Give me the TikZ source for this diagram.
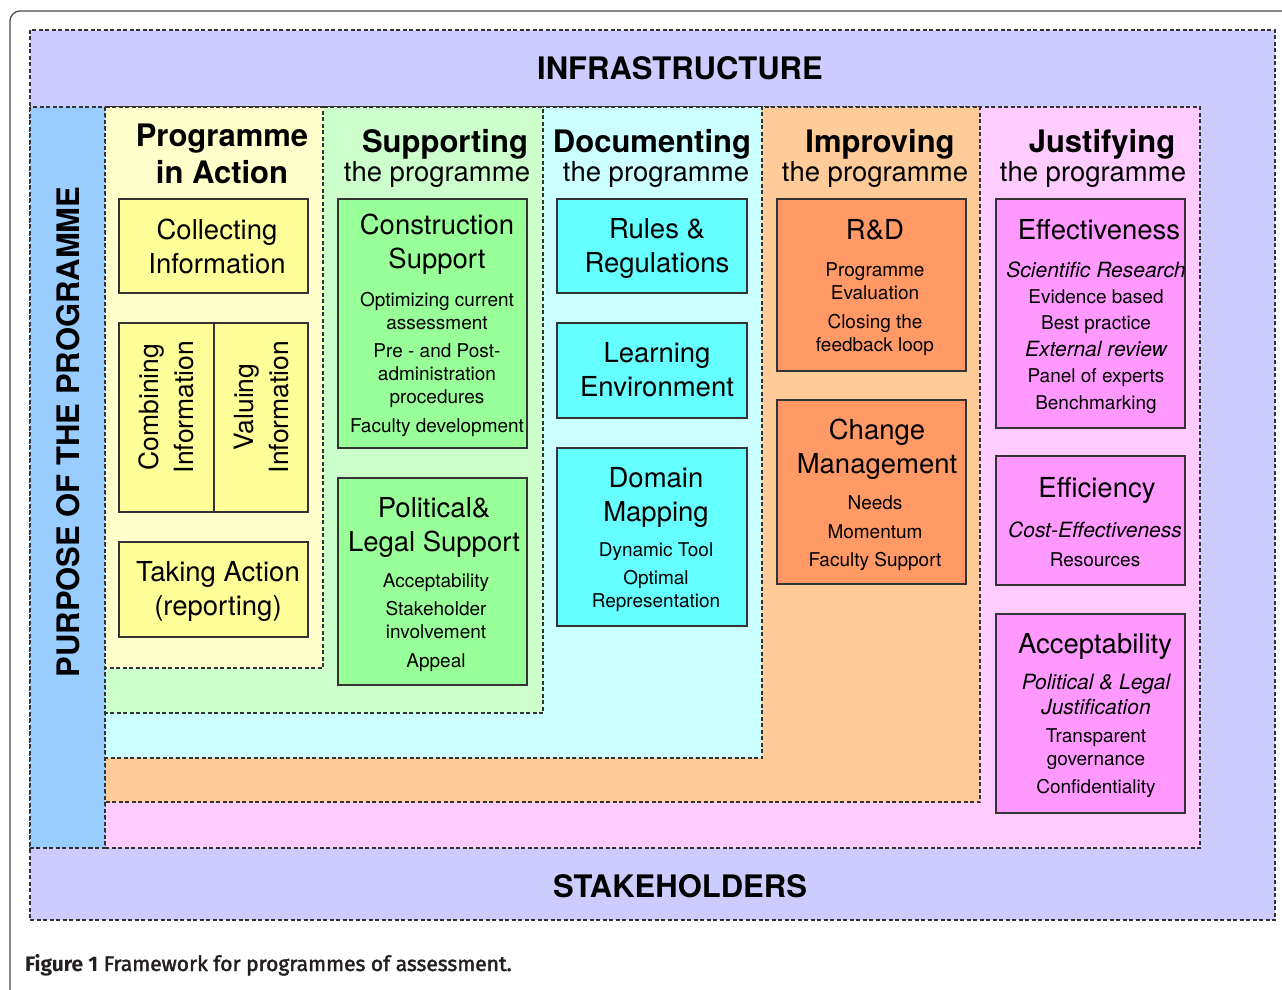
\documentclass[tikz,border=0pt]{standalone}
\usepackage{fontspec}
\setmainfont{TeX Gyre Heros}
\newfontfamily\capfont{Fira Sans}
\newfontfamily\capfontmed{Fira Sans}[FakeBold=2]
\definecolor{infra}{HTML}{CCCCFF}
\definecolor{purp}{HTML}{99CCFF}
\definecolor{pinkbg}{HTML}{FFCCFF}
\definecolor{pinkbx}{HTML}{FF99FF}
\definecolor{orgbg}{HTML}{FFCC99}
\definecolor{orgbx}{HTML}{FF9966}
\definecolor{cyanbg}{HTML}{CCFFFF}
\definecolor{cyanbx}{HTML}{66FFFF}
\definecolor{grnbg}{HTML}{CCFFCC}
\definecolor{grnbx}{HTML}{99FF99}
\definecolor{ylwbg}{HTML}{FFFFCC}
\definecolor{ylwbx}{HTML}{FFFF99}
\definecolor{captxt}{HTML}{231F20}
\newcommand\FwBig{\fontsize{31}{37}\selectfont\bfseries}
\newcommand\FwSub{\fontsize{27.5}{34}\selectfont}
\newcommand\FwTtl{\fontsize{27.5}{34}\selectfont}
\newcommand\FwRot{\fontsize{26.5}{35}\selectfont}
\newcommand\FwSm{\fontsize{19}{23}\selectfont}
\newcommand\FwSmW{\fontsize{19}{26.4}\selectfont}
\newcommand\FwIt{\fontsize{21}{25}\selectfont\itshape}
\newcommand\boxat[6]{%
  \pgfmathsetmacro\bw{#4-#2}\pgfmathsetmacro\bh{#5-#3}%
  \pgfmathsetmacro\bcx{(#2+#4)/2}\pgfmathsetmacro\bcy{(#3+#5)/2}%
  \node[box, fill=#6, minimum width=\bw pt, minimum height=\bh pt] (#1) at (\bcx,\bcy) {};}
\begin{document}
\begin{tikzpicture}[x=1pt, y=-1pt,
  every node/.style={inner sep=0pt, outer sep=0pt},
  region/.style={draw=black!80, line width=1.1pt, dash pattern=on 4pt off 2.5pt},
  box/.style={draw=black!80, line width=1.3pt, rectangle},
  txt/.style={align=center, anchor=base, text=black}]
\useasboundingbox (0,0) rectangle (1282,990);
\fill[white] (0,0) rectangle (1282,990);
\begin{scope}
\clip (0,0) rectangle (1282,990);
\draw[draw=black!70, line width=1.3pt, rounded corners=10pt] (10,1100) -- (10,11) -- (1400,11);
\end{scope}
% regions
\path[region, fill=infra] (30,30) rectangle (1275,920);
\path[region, fill=pinkbg] (105,107) rectangle (1200,848);
\path[region, fill=orgbg] (105,107) rectangle (980,802);
\path[region, fill=cyanbg] (105,107) rectangle (762,758);
\path[region, fill=grnbg] (105,107) rectangle (543,713);
\path[region, fill=ylwbg] (105,107) rectangle (323,668);
\path[region, fill=purp] (30,107) rectangle (105,848);
% labels of frame
\node[txt, font=\FwBig] (infraT) at (680,80) {INFRASTRUCTURE};
\node[txt, font=\FwBig] (stakeT) at (680,897) {STAKEHOLDERS};
\node[txt, font=\FwBig, rotate=90] (purpT) at (79,432) {PURPOSE OF THE PROGRAMME};
% headings (anchor = baseline of the last line)
\node[txt, font=\FwBig] (hPIA) at (222,183) {Programme\\in Action};
\node[txt, font=\FwBig] (hSup) at (445,152) {Supporting};
\node[txt, font=\FwSub] (hSupS) at (437,181) {the programme};
\node[txt, font=\FwBig] (hDoc) at (652,152) {Documenting};
\node[txt, font=\FwSub] (hDocS) at (656,181) {the programme};
\node[txt, font=\FwBig] (hImp) at (880,152) {Improving};
\node[txt, font=\FwSub] (hImpS) at (875,181) {the programme};
\node[txt, font=\FwBig] (hJus) at (1102,152) {Justifying};
\node[txt, font=\FwSub] (hJusS) at (1093,181) {the programme};
% boxes
\boxat{collect}{119}{199}{308}{293}{ylwbx}
\boxat{comb}{119}{323}{214}{512}{ylwbx}
\boxat{valu}{214}{323}{308}{512}{ylwbx}
\boxat{take}{119}{542}{308}{637}{ylwbx}
\boxat{cons}{338}{199}{527}{448}{grnbx}
\boxat{pol}{338}{478}{527}{685}{grnbx}
\boxat{rules}{557}{199}{747}{293}{cyanbx}
\boxat{learn}{557}{323}{747}{418}{cyanbx}
\boxat{domain}{557}{448}{747}{626}{cyanbx}
\boxat{rd}{777}{199}{966}{371}{orgbx}
\boxat{change}{777}{400}{966}{584}{orgbx}
\boxat{eff}{996}{199}{1185}{428}{pinkbx}
\boxat{effc}{996}{456}{1185}{585}{pinkbx}
\boxat{acc}{996}{614}{1185}{813}{pinkbx}
% box texts (anchor = baseline of the last line)
\node[txt, font=\FwTtl] (collectT) at (217,273) {Collecting\\Information};
\node[txt, font=\FwRot, rotate=90] (combT) at (193,407) {Combining\\Information};
\node[txt, font=\FwRot, rotate=90] (valuT) at (288,407) {Valuing\\Information};
\node[txt, font=\FwTtl] (takeT) at (218,615) {Taking Action\\(reporting)};
\node[txt, font=\FwTtl] (consT) at (437,268) {Construction\\Support};
\node[txt, font=\FwSm] (consD) at (437,432) {Optimizing current\\assessment\\[5pt]Pre - and Post-\\administration\\procedures\\[6pt]Faculty development};
\node[txt, font=\FwTtl] (polT) at (434,551) {Political\&\\Legal Support};
\node[txt, font=\FwSm] (polD) at (436,667) {Acceptability\\[5pt]Stakeholder\\involvement\\[6pt]Appeal};
\node[txt, font=\FwTtl] (rulesT) at (657,272) {Rules \&\\Regulations};
\node[txt, font=\FwTtl] (learnT) at (657,396) {Learning\\Environment};
\node[txt, font=\FwTtl] (domainT) at (656,521) {Domain\\Mapping};
\node[txt, font=\FwSm] (domainD) at (656,607) {Dynamic Tool\\[5pt]Optimal\\Representation};
\node[txt, font=\FwTtl] (rdT) at (875,239) {R\&D};
\node[txt, font=\FwSm] (rdD) at (875,351) {Programme\\Evaluation\\[6pt]Closing the\\feedback loop};
\node[txt, font=\FwTtl] (changeT) at (877,473) {Change\\Management};
\node[txt, font=\FwSm] (changeD) at (875,566) {Needs\\[6pt]Momentum\\[5pt]Faculty Support};
\node[txt, font=\FwTtl] (effT) at (1099,239) {Effectiveness};
\node[txt, font=\FwSmW] (effD) at (1096,409) {{\FwIt Scientific Research}\\Evidence based\\Best practice\\{\FwIt External review}\\Panel of experts\\Benchmarking};
\node[txt, font=\FwTtl] (effcT) at (1097,497) {Efficiency};
\node[txt, font=\FwSm] (effcD) at (1095,566) {{\FwIt Cost-Effectiveness}\\[6pt]Resources};
\node[txt, font=\FwTtl] (accT) at (1095,653) {Acceptability};
\node[txt, font=\FwSm] (accD) at (1096,793) {{\FwIt Political \& Legal}\\[2pt]{\FwIt Justification}\\[5pt]Transparent\\governance\\[5pt]Confidentiality};
% caption
\node[anchor=base west, text=captxt, font=\fontsize{21}{25}\selectfont] (cap) at (25,971) {{\capfont\bfseries Figure 1} {\capfontmed Framework for programmes of assessment.}};
\end{tikzpicture}
\end{document}
